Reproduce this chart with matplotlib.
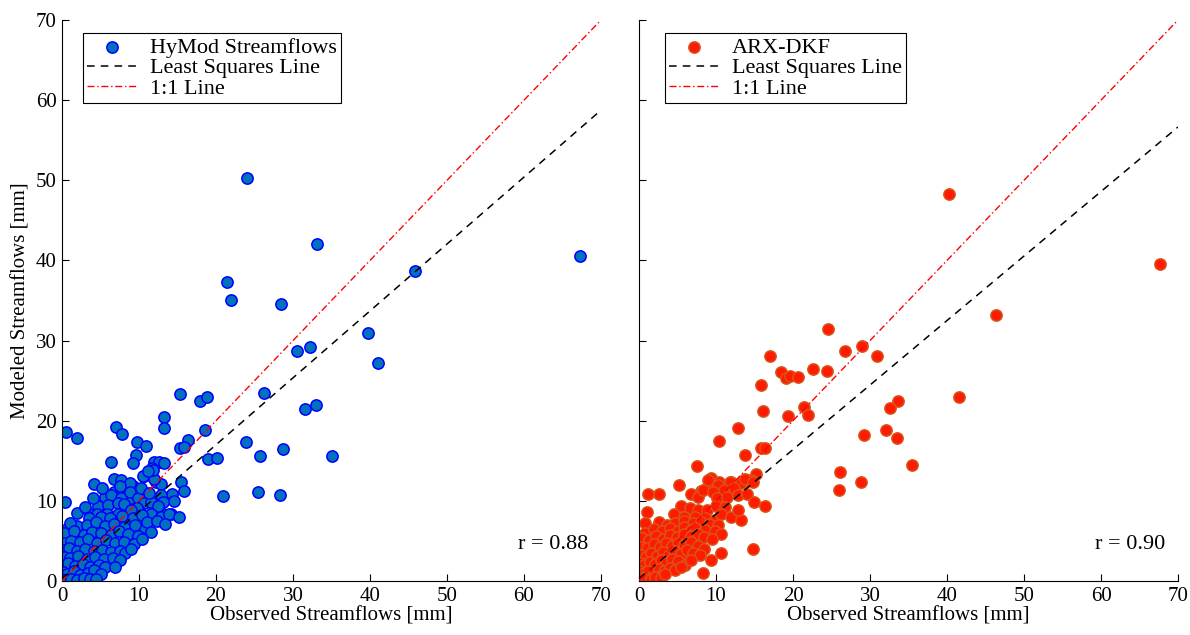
import numpy as np
import matplotlib
matplotlib.use("Agg")
import matplotlib.pyplot as plt

plt.rcParams['font.family'] = ['Liberation Serif', 'DejaVu Serif']

# observed vs modeled streamflow pairs [mm], HyMod model
hymod_points = [
    (67.3, 40.6), (45.8, 38.7), (24.0, 50.3), (33.1, 42.0), (21.4, 37.3), (22.0, 35.1),
    (28.5, 34.6), (39.7, 30.9), (41.0, 27.2), (30.5, 28.7), (32.2, 29.2), (15.3, 23.3),
    (17.9, 22.5), (18.8, 22.9), (26.2, 23.5), (31.6, 21.5), (33.0, 21.9), (13.3, 20.5),
    (13.2, 19.1), (18.6, 18.8), (16.4, 17.6), (15.3, 16.6), (15.9, 16.7), (23.9, 17.3),
    (25.7, 15.6), (28.7, 16.5), (35.0, 15.6), (19.0, 15.2), (20.1, 15.4), (11.9, 14.9),
    (12.6, 14.9), (13.3, 14.7), (11.7, 14.1), (15.5, 12.4), (15.9, 11.2), (12.2, 12.4),
    (12.9, 12.1), (14.3, 10.9), (14.6, 10.0), (12.8, 10.7), (20.9, 10.6), (25.5, 11.1),
    (28.3, 10.7), (0.5, 18.6), (2.0, 17.9), (7.0, 19.2), (7.8, 18.4), (9.8, 17.3),
    (10.9, 16.8), (9.6, 15.7), (6.3, 14.9), (10.6, 13.1), (6.7, 12.7), (7.7, 12.6),
    (4.2, 12.1), (12.0, 12.7), (9.2, 11.8), (6.7, 11.1), (8.4, 11.4), (7.4, 10.5),
    (9.1, 10.3), (5.6, 10.5), (11.1, 10.4), (11.9, 9.5), (13.1, 9.9), (14.2, 8.3),
    (11.6, 8.3), (13.1, 8.4), (0.4, 9.8), (4.7, 9.4), (2.0, 8.5), (3.6, 8.4),
    (2.0, 6.9), (0.4, 6.4), (0.4, 5.1), (10.6, 6.8), (11.8, 13.9), (8.8, 12.2),
    (10.5, 13.1), (9.2, 14.7), (11.2, 13.7),
    (6.4, 10.7), (7.7, 10.3), (8.8, 11.1), (9.9, 10.3), (10.7, 9.7), (11.6, 9.9),
    (12.5, 9.3), (6.0, 9.5), (7.3, 9.7), (4.5, 8.4), (5.8, 8.4), (7.3, 8.4),
    (8.5, 8.6), (10.0, 8.7), (11.5, 8.4), (12.8, 8.0), (13.9, 8.4), (15.2, 8.0),
    (3.0, 9.2), (4.0, 10.3), (5.2, 11.6), (8.0, 9.6), (9.8, 9.1), (10.2, 11.6),
    (11.3, 11.0), (7.5, 11.8), (3.5, 7.8), (8.9, 8.9),
    (5.0, 8.0), (6.2, 7.8), (7.8, 8.1), (9.2, 7.9), (10.4, 8.2),
    (1.0, 7.2), (3.2, 7.0), (4.4, 7.3), (5.6, 6.9), (6.8, 7.1), (8.0, 6.8),
    (9.5, 7.0), (11.0, 7.3), (12.3, 7.5), (13.4, 7.1),
    (0.3, 6.0), (1.6, 6.2), (2.8, 5.8), (3.9, 6.1), (5.1, 6.0), (6.3, 5.7),
    (7.4, 6.2), (8.6, 5.9), (9.9, 5.6), (11.5, 6.1),
    (0.2, 4.8), (1.2, 5.0), (2.3, 4.9), (3.4, 5.2), (4.6, 4.8), (5.7, 5.1),
    (6.9, 4.7), (8.1, 4.9), (9.3, 4.6), (10.4, 5.2),
    (0.1, 3.9), (0.9, 4.1), (1.9, 3.8), (3.0, 4.0), (4.1, 3.7), (5.2, 3.9),
    (6.3, 3.6), (7.5, 3.8), (8.2, 3.5), (9.0, 4.0),
    (0.2, 3.0), (1.1, 2.9), (2.1, 3.1), (3.2, 2.8), (4.3, 3.0), (5.4, 2.7),
    (6.6, 2.9), (7.5, 2.6),
    (0.1, 2.0), (0.8, 2.2), (1.7, 1.9), (2.7, 2.1), (3.7, 1.8), (4.8, 2.0),
    (5.6, 1.8), (6.9, 1.8),
    (0.1, 1.1), (0.7, 0.9), (1.5, 1.2), (2.4, 0.8), (3.4, 1.0), (4.2, 1.4), (5.0, 0.9),
    (0.0, 0.2), (0.5, 0.1), (1.2, 0.3), (2.0, 0.1), (2.9, 0.4), (3.6, 0.2), (4.4, 0.3),
]

# observed vs modeled streamflow pairs [mm], ARX-DKF model
arx_points = [
    (67.7, 39.6), (40.2, 48.3), (46.3, 33.2), (41.5, 22.9), (24.5, 31.4), (17.0, 28.1),
    (26.8, 28.7), (29.0, 29.3), (30.9, 28.1), (18.4, 26.1), (19.1, 25.3), (19.6, 25.6),
    (20.6, 25.5), (22.6, 26.4), (24.4, 26.2), (15.8, 24.4), (16.1, 21.2), (19.3, 20.6),
    (21.4, 21.7), (22.0, 20.7), (33.6, 22.5), (32.6, 21.6), (32.1, 18.8), (33.5, 17.8),
    (29.2, 18.2), (35.5, 14.5), (26.1, 13.6), (28.8, 12.4), (26.0, 11.4), (15.8, 16.6),
    (16.4, 16.6), (15.2, 13.4), (14.7, 12.5), (12.8, 19.1), (10.4, 17.5), (13.8, 15.7),
    (7.5, 14.3), (9.4, 12.8), (5.2, 12.0), (1.2, 10.9), (2.6, 10.9), (16.4, 9.4),
    (14.8, 4.0), (8.3, 1.0), (8.9, 11.6), (10.4, 12.3), (11.9, 12.3), (13.6, 12.4),
    (8.0, 11.2), (6.8, 10.9), (7.7, 10.5),
    (9.0, 12.6), (10.3, 12.0), (11.8, 12.4), (13.2, 12.2), (14.5, 12.6), (8.3, 11.4),
    (9.6, 11.1), (11.1, 11.4), (12.4, 11.6), (10.1, 10.3), (11.4, 10.5), (12.9, 10.7),
    (14.0, 10.9), (14.9, 9.9), (13.8, 12.7), (14.8, 12.4),
    (5.5, 9.3), (6.6, 9.1), (7.7, 8.9), (8.8, 8.9), (10.0, 9.4), (11.2, 9.2),
    (1.0, 8.6), (4.5, 8.3), (5.9, 8.0), (7.3, 8.0), (8.6, 7.8), (9.9, 7.6),
    (10.7, 8.4), (12.0, 8.0), (13.3, 7.6), (12.9, 8.9),
    (0.8, 7.2), (2.6, 7.4), (3.6, 7.0), (4.7, 7.2), (5.9, 7.5), (7.0, 7.2),
    (8.0, 7.4), (9.1, 7.1), (10.3, 7.0),
    (0.8, 6.0), (2.0, 6.5), (3.0, 6.2), (4.0, 6.6), (5.0, 6.3), (5.9, 6.8),
    (6.8, 6.4), (7.3, 6.6), (8.6, 6.4), (9.9, 6.2), (10.7, 5.9),
    (0.4, 5.4), (1.3, 5.1), (2.2, 5.6), (3.1, 5.3), (4.0, 5.8), (4.9, 5.5),
    (5.8, 5.9), (6.7, 5.6), (7.6, 5.9), (8.5, 5.5), (9.5, 5.2),
    (0.3, 4.3), (1.1, 4.1), (1.9, 4.6), (2.7, 4.2), (3.5, 4.7), (4.3, 4.4),
    (5.1, 4.8), (5.9, 4.5), (6.7, 4.9), (7.6, 4.4), (8.5, 4.0), (9.4, 2.6), (10.7, 3.5),
    (0.2, 3.3), (0.9, 3.0), (1.6, 3.5), (2.4, 3.1), (3.1, 3.6), (3.9, 3.3),
    (4.6, 3.8), (5.4, 3.4), (6.2, 3.9), (7.0, 3.5), (7.9, 3.2),
    (0.1, 2.2), (0.7, 2.0), (1.4, 2.4), (2.1, 2.1), (2.8, 2.6), (3.5, 2.3),
    (4.3, 2.8), (5.0, 2.5), (6.0, 2.0), (6.8, 2.6),
    (0.1, 1.2), (0.6, 1.0), (1.2, 1.3), (1.9, 1.1), (2.6, 1.5), (3.3, 1.2),
    (4.0, 1.6), (4.7, 1.4), (5.4, 1.8),
    (0.0, 0.1), (0.4, 0.4), (0.9, 0.2), (1.5, 0.3), (2.1, 0.5), (2.8, 0.4), (3.4, 0.9),
]

# least squares fits (slope, intercept) and correlation
hymod_fit = (0.835, 0.3)
arx_fit = (0.805, 0.3)
hymod_r = 0.88
arx_r = 0.90

ticks = [0, 10, 20, 30, 40, 50, 60, 70]

fig = plt.figure(figsize=(11.9, 6.35), dpi=100)
ax1 = fig.add_axes([62 / 1190, 54 / 635, 539 / 1190, 561 / 635])
ax2 = fig.add_axes([639 / 1190, 54 / 635, 539 / 1190, 561 / 635])

panels = [
    (ax1, hymod_points, hymod_fit, hymod_r, 'HyMod Streamflows', '#0072BD', '#0000FF', 0.039),
    (ax2, arx_points, arx_fit, arx_r, 'ARX-DKF', '#FF1A00', '#D95319', 0.048),
]

for ax, pts, fit, r, name, face, edge, legx in panels:
    pts = np.array(pts)
    ax.scatter(pts[:, 0], pts[:, 1], s=66, c=face, edgecolors=edge, linewidths=1.1,
               label=name, zorder=2)
    xx = np.array([0, 70])
    ax.plot(xx, fit[0] * xx + fit[1], color='black', ls=(0, (5, 4)), lw=1.1,
            label='Least Squares Line', zorder=3)
    ax.plot(xx, xx, color='red', ls=(0, (5, 2, 1, 2)), lw=1.0, label='1:1 Line', zorder=3)

    ax.set_xlim(0, 70)
    ax.set_ylim(0, 70)
    ax.set_xticks(ticks)
    ax.set_yticks(ticks)
    ax.spines['top'].set_visible(False)
    ax.spines['right'].set_visible(False)
    ax.tick_params(direction='in', length=5, labelsize=15, pad=4)
    ax.set_xlabel('Observed Streamflows [mm]', fontsize=15, labelpad=1)
    ax.text(68.3, 4.5, 'r = %.2f' % r, fontsize=16, ha='right', va='center')

    leg = ax.legend(loc='upper left', bbox_to_anchor=(legx, 0.977), borderaxespad=0,
                    fontsize=16, labelspacing=0.0, handlelength=2.2, handletextpad=0.6,
                    borderpad=0.2, fancybox=False, framealpha=1, scatterpoints=1)
    leg.get_frame().set_edgecolor('black')
    leg.get_frame().set_linewidth(0.8)

ax1.set_ylabel('Modeled Streamflows [mm]', fontsize=15, labelpad=4)
ax2.set_yticklabels([])

fig.savefig('out.png', dpi=100)
